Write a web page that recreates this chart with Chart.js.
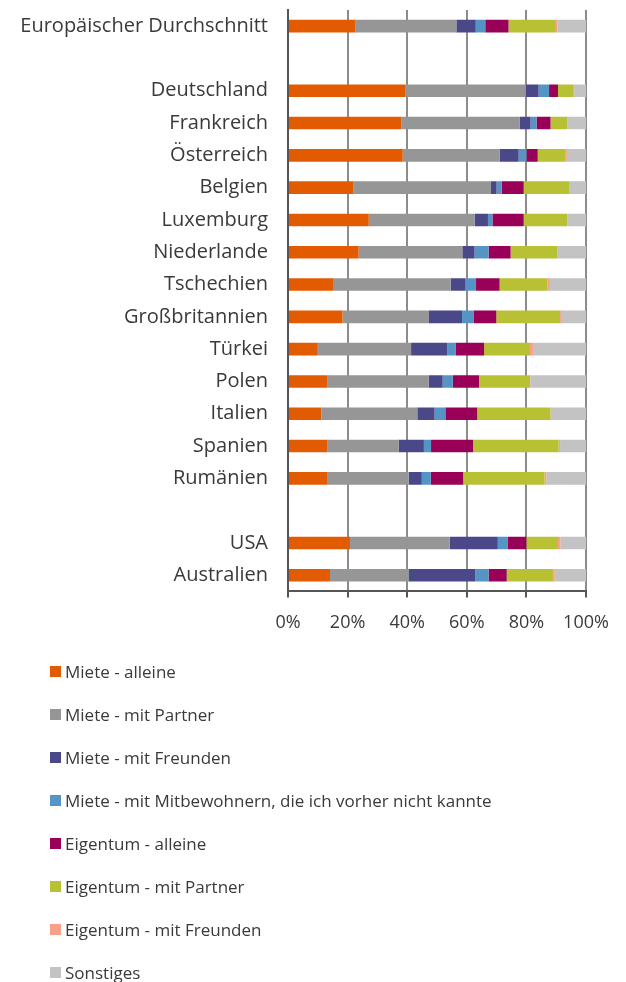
<!DOCTYPE html>
<html>
<head>
<meta charset="utf-8">
<script src="https://cdn.jsdelivr.net/npm/chart.js@4.4.1/dist/chart.umd.min.js"></script>
<style>
    body { margin: 0; background: #fff; font-family: 'Open Sans', sans-serif; }
    #wrap { position: relative; width: 626px; height: 684px; margin-top: -22px; }
    #legend { position: absolute; left: 50px; top: 650px; }
    .item { height: 43px; display: flex; align-items: center; font-size: 17px; color: #3a3a3a; }
    .box { width: 11px; height: 11px; margin-right: 4px; }
</style>
</head>
<body>
<div id="wrap"><canvas id="chart" width="626" height="684"></canvas></div>
<div id="legend"></div>
<script>
// Wohnsituation nach Land, Anteile in % (leere Kategorien = Abstand)
var countries = ['Europäischer Durchschnitt', '', 'Deutschland', 'Frankreich', 'Österreich', 'Belgien',
    'Luxemburg', 'Niederlande', 'Tschechien', 'Großbritannien', 'Türkei', 'Polen', 'Italien',
    'Spanien', 'Rumänien', '', 'USA', 'Australien'];

var mieteAlleine    = [22.7, null, 39.5, 38.1, 38.5, 22.0, 27.1, 23.7, 15.1, 18.3, 10.0, 13.3, 11.2, 13.3, 13.1, null, 20.8, 14.1];
var mietePartner    = [33.8, null, 40.3, 39.6, 32.5, 46.1, 35.5, 34.8, 39.5, 29.0, 31.3, 33.9, 32.2, 23.8, 27.4, null, 33.5, 26.5];
var mieteFreunde    = [6.5,  null, 4.3,  3.7,  6.4,  1.9,  4.5,  4.1,  5.0,  11.1, 12.1, 4.7,  5.8,  8.5,  4.4,  null, 16.1, 22.2];
var mieteMitbewohn  = [3.2,  null, 3.5,  2.0,  2.6,  1.7,  1.5,  4.7,  3.5,  4.0,  2.8,  3.4,  3.6,  2.4,  3.0,  null, 3.4,  4.5];
var eigentumAlleine = [7.8,  null, 3.0,  4.7,  3.8,  7.4,  10.5, 7.4,  7.9,  7.5,  9.6,  8.8,  10.7, 14.1, 10.9, null, 6.2,  6.1];
var eigentumPartner = [15.9, null, 5.3,  5.7,  9.4,  15.4, 14.7, 15.7, 16.1, 21.4, 15.4, 17.1, 24.6, 28.7, 27.3, null, 10.6, 15.5];
var eigentumFreunde = [0.5,  null, 0.1,  0.1,  0.4,  0.1,  0.1,  0.2,  0.8,  0.6,  1.0,  0.1,  0.1,  0.5,  0.6,  null, 0.8,  0.6];
var sonstiges       = [9.6,  null, 4.0,  6.1,  6.4,  5.4,  6.1,  9.4,  12.1, 8.1,  17.8, 18.8, 11.9, 8.7,  13.3, null, 8.6,  10.5];

var xTicks = [0, 20, 40, 60, 80, 100];

var seriesNames = ['Miete - alleine', 'Miete - mit Partner', 'Miete - mit Freunden',
    'Miete - mit Mitbewohnern, die ich vorher nicht kannte', 'Eigentum - alleine',
    'Eigentum - mit Partner', 'Eigentum - mit Freunden', 'Sonstiges'];
var seriesData = [mieteAlleine, mietePartner, mieteFreunde, mieteMitbewohn,
    eigentumAlleine, eigentumPartner, eigentumFreunde, sonstiges];
var seriesColors = ['#e35b00', '#969696', '#4a4888', '#5595c6', '#990057', '#b8c034', '#f9a08a', '#c3c3c3'];

var datasets = seriesNames.map(function (name, i) {
    return {
        label: name,
        data: seriesData[i],
        backgroundColor: seriesColors[i],
        borderWidth: 0,
        categoryPercentage: 1,
        barPercentage: 0.39
    };
});

new Chart(document.getElementById('chart'), {
    type: 'bar',
    data: { labels: countries, datasets: datasets },
    options: {
        indexAxis: 'y',
        responsive: false,
        animation: false,
        layout: { padding: { top: 0, bottom: 13, right: 40, left: 0 } },
        plugins: { legend: { display: false }, tooltip: { enabled: false } },
        scales: {
            x: {
                stacked: true,
                min: 0,
                max: 100,
                afterBuildTicks: function (scale) {
                    scale.ticks = xTicks.map(function (v) { return { value: v }; });
                },
                grid: { color: '#8c8c8c', tickColor: '#555', lineWidth: 2, tickLength: 6 },
                border: { color: '#555', width: 2 },
                ticks: {
                    padding: 15,
                    color: '#3a3a3a',
                    font: { family: 'Open Sans', size: 18 },
                    callback: function (v) { return v + '%'; }
                }
            },
            y: {
                stacked: true,
                afterFit: function (scale) { scale.width = 288; },
                grid: { display: false, drawTicks: false },
                border: { color: '#555', width: 2 },
                ticks: {
                    autoSkip: false,
                    padding: 20,
                    color: '#3a3a3a',
                    font: { family: 'Open Sans', size: 20 }
                }
            }
        }
    }
});

// Legende: ein Eintrag pro Zeile
var legend = document.getElementById('legend');
seriesNames.forEach(function (name, i) {
    var row = document.createElement('div');
    row.className = 'item';
    row.innerHTML = '<span class="box" style="background:' + seriesColors[i] + '"></span>' + name;
    legend.appendChild(row);
});
</script>
</body>
</html>
